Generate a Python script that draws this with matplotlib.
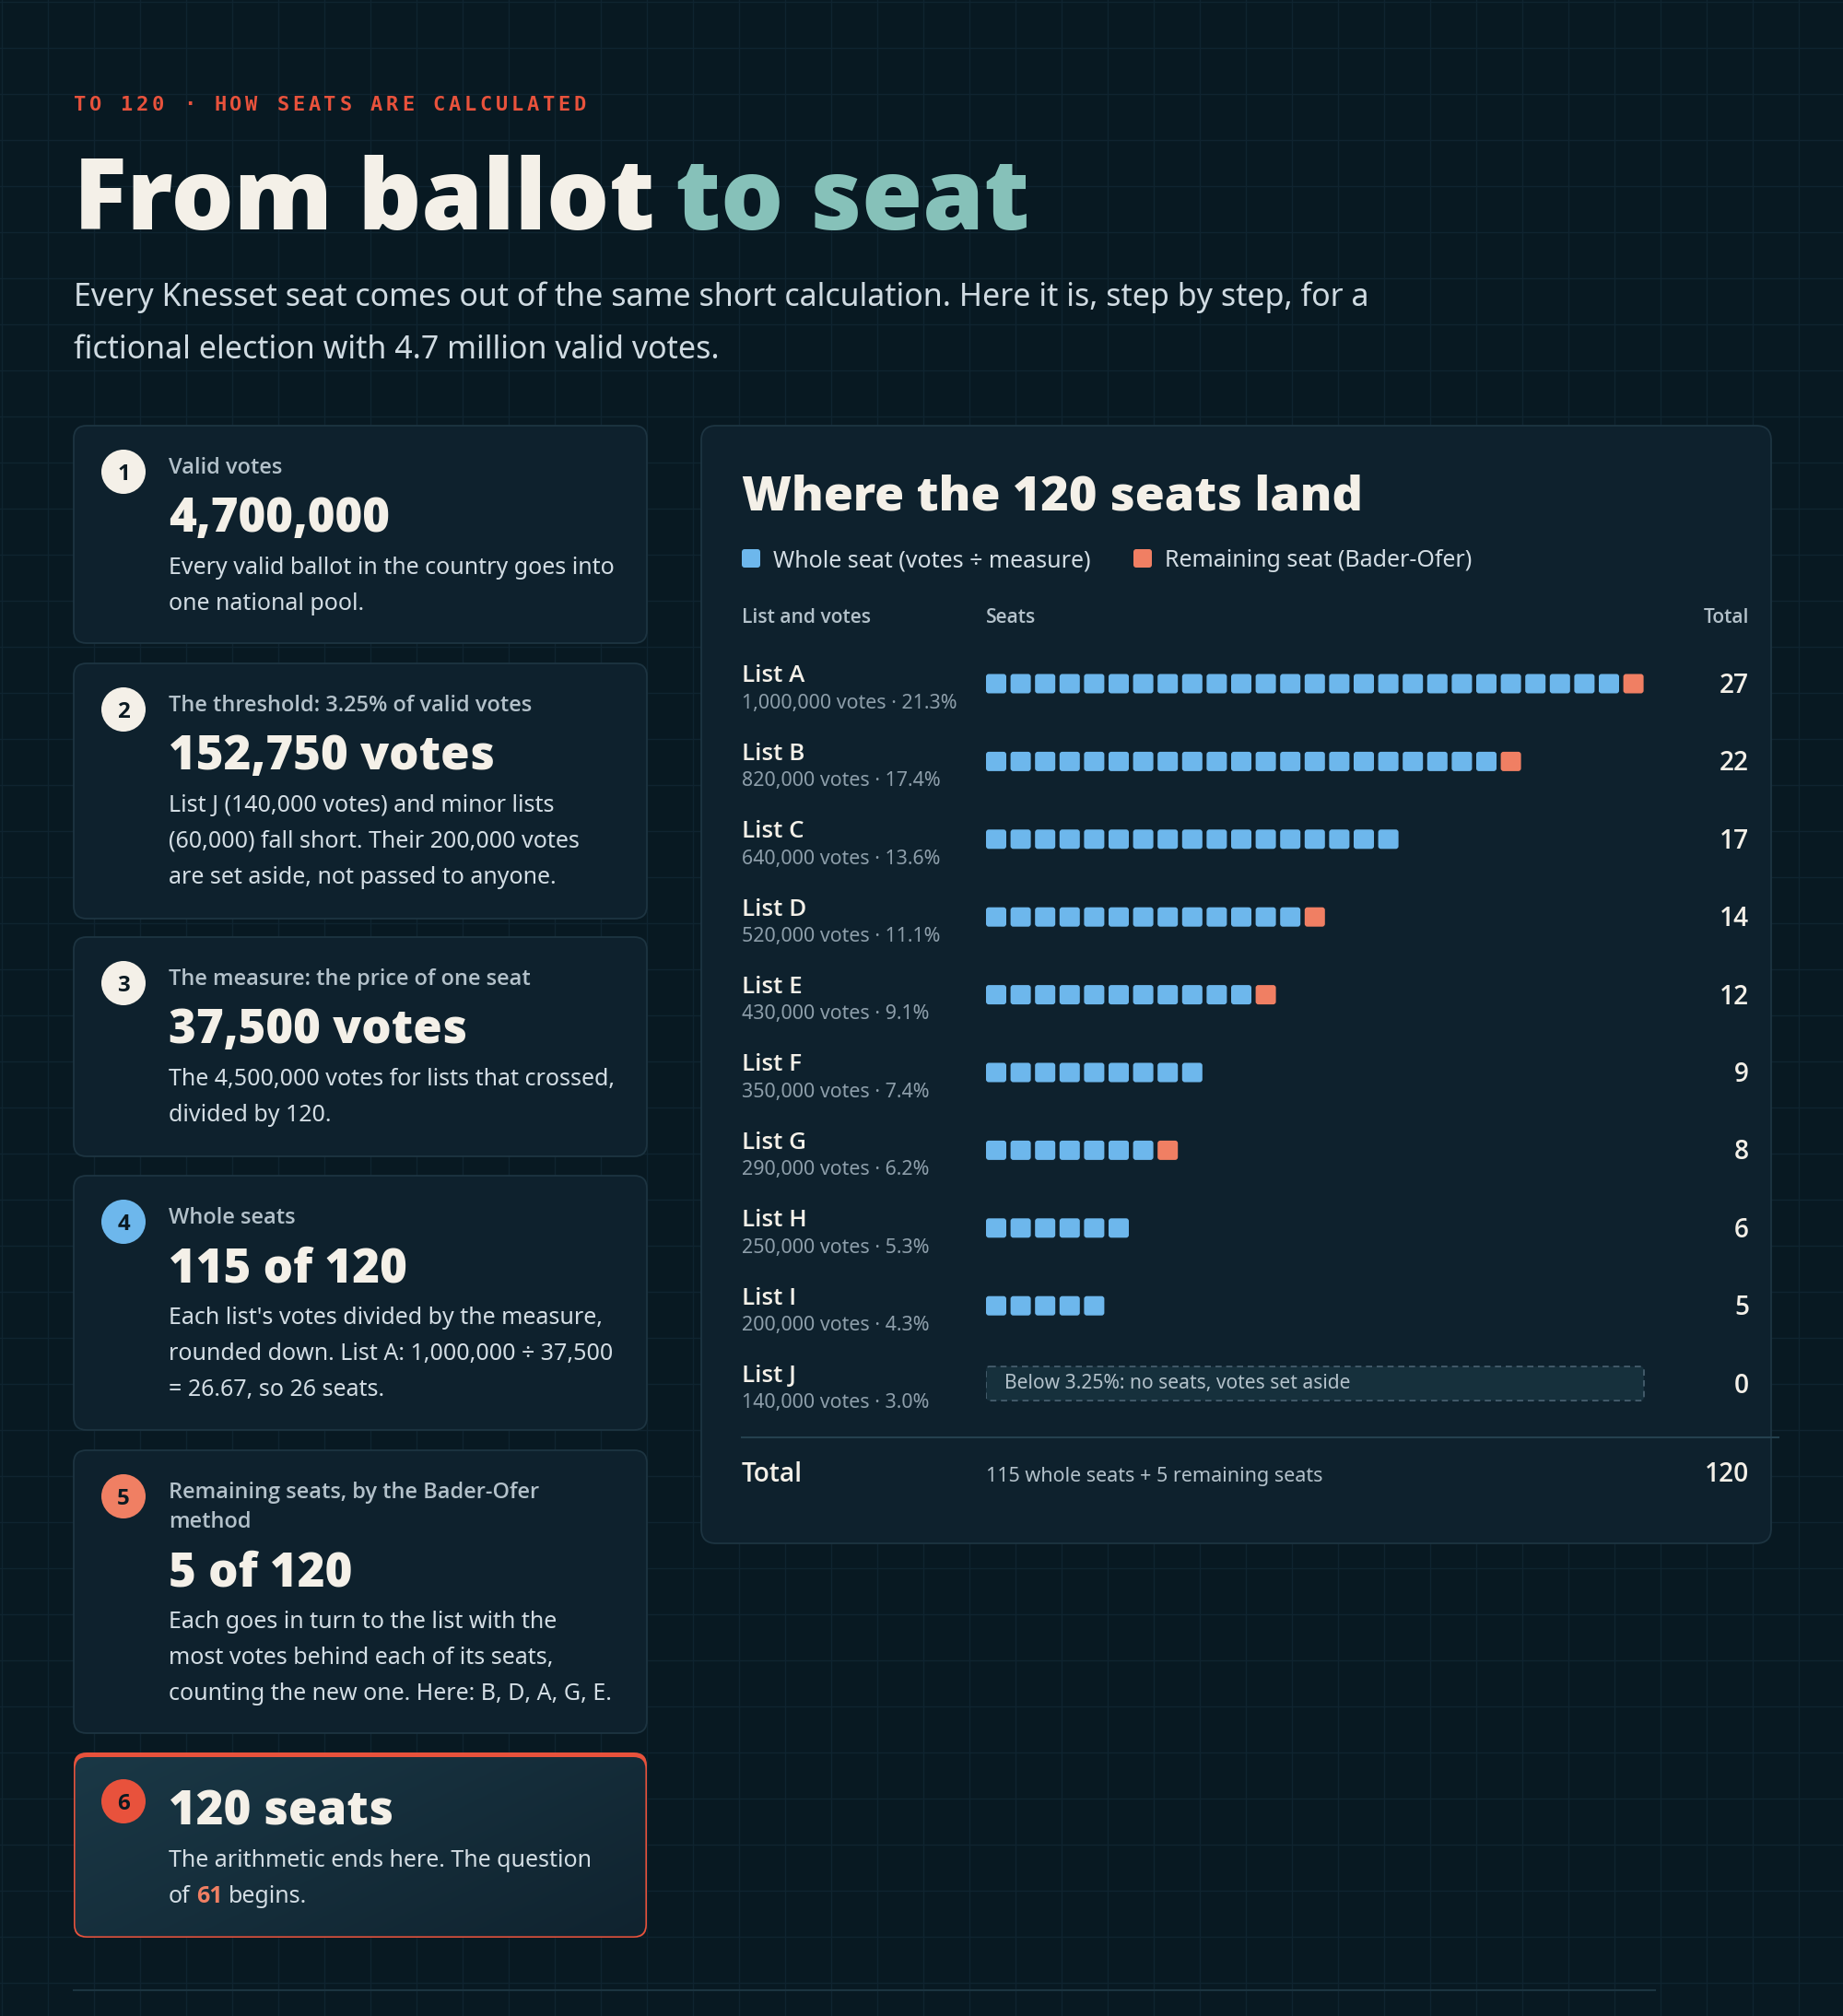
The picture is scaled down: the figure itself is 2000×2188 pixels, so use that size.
import matplotlib
matplotlib.use('Agg')
import matplotlib.pyplot as plt
from matplotlib.patches import FancyBboxPatch, Circle
import numpy as np

# ---------------- data ----------------
list_names = ['List A', 'List B', 'List C', 'List D', 'List E',
              'List F', 'List G', 'List H', 'List I', 'List J']
list_votes = [1000000, 820000, 640000, 520000, 430000,
              350000, 290000, 250000, 200000, 140000]
vote_share = [21.3, 17.4, 13.6, 11.1, 9.1, 7.4, 6.2, 5.3, 4.3, 3.0]
whole_seats = [26, 21, 17, 13, 11, 9, 7, 6, 5, 0]
remaining_seats = [1, 1, 0, 1, 1, 0, 1, 0, 0, 0]
below_note = 'Below 3.25%: no seats, votes set aside'
total_note = '115 whole seats + 5 remaining seats'
total_seats = 120

step_numbers = ['1', '2', '3', '4', '5', '6']
step_labels = [['Valid votes'],
               ['The threshold: 3.25% of valid votes'],
               ['The measure: the price of one seat'],
               ['Whole seats'],
               ['Remaining seats, by the Bader-Ofer', 'method'],
               []]
step_values = ['4,700,000', '152,750 votes', '37,500 votes', '115 of 120', '5 of 120', '120 seats']
step_descs = [['Every valid ballot in the country goes into', 'one national pool.'],
              ['List J (140,000 votes) and minor lists', '(60,000) fall short. Their 200,000 votes',
               'are set aside, not passed to anyone.'],
              ['The 4,500,000 votes for lists that crossed,', 'divided by 120.'],
              ["Each list's votes divided by the measure,", 'rounded down. List A: 1,000,000 \u00f7 37,500',
               '= 26.67, so 26 seats.'],
              ['Each goes in turn to the list with the', 'most votes behind each of its seats,',
               'counting the new one. Here: B, D, A, G, E.'],
              ['The arithmetic ends here. The question', None]]

# ---------------- style ----------------
W, H, DPI = 2000, 2188, 100
BG = '#081922'
GRID = '#0f2430'
CARD = '#0e212d'
CARD_EDGE = '#1d3441'
CREAM = '#f4f0e8'
TEAL = '#86c1b9'
RED = '#e8523c'
BLUE = '#6db7ec'
SALMON = '#f07f63'
LABEL = '#b3c1ca'
DESC = '#d3dde4'
SUB = '#8d9eaa'
SANS = ['Noto Sans', 'DejaVu Sans']
BOLDF = ['Open Sans', 'DejaVu Sans']
MONO = ['DejaVu Sans Mono']
circle_colors = [CREAM, CREAM, CREAM, BLUE, SALMON, RED]

plt.rcParams['font.family'] = SANS

fig = plt.figure(figsize=(W / DPI, H / DPI), dpi=DPI, facecolor=BG)
ax = fig.add_axes([0, 0, 1, 1])
ax.set_xlim(0, W)
ax.set_ylim(H, 0)
ax.axis('off')
R = fig.canvas.get_renderer()


def pt(px):
    return px * 72 / DPI


def T(x, yc, s, size, color, weight='normal', ha='left', family=None, z=5, **kw):
    if family is None:
        family = SANS if weight in ('normal', 'regular') else BOLDF
    return ax.text(x, yc + 0.36 * size, s, fontsize=pt(size), color=color,
                   fontweight=weight, ha=ha, va='baseline', family=family, zorder=z, **kw)


def width(t):
    return t.get_window_extent(R).width


def space_w(size, weight='normal'):
    fam = SANS if weight == 'normal' else BOLDF
    a = ax.text(0, 0, 'x x', fontsize=pt(size), fontweight=weight, family=fam)
    b = ax.text(0, 0, 'xx', fontsize=pt(size), fontweight=weight, family=fam)
    w = width(a) - width(b)
    a.remove(); b.remove()
    return w


# background grid
for gx in np.arange(2, W, 50):
    ax.plot([gx, gx], [0, H], color=GRID, lw=1, zorder=0)
for gy in np.arange(2, H, 50):
    ax.plot([0, W], [gy, gy], color=GRID, lw=1, zorder=0)

# ---------------- header ----------------
eyebrow = 'TO 120 \u00b7 HOW SEATS ARE CALCULATED'
for i, ch in enumerate(eyebrow):
    T(80 + i * 16.95, 112, ch, 22, RED, weight='bold', family=MONO)

TS = 107
t1 = T(80, 210, 'From ballot', TS, CREAM, weight=800)
sw = space_w(TS, 800) * 0.8
T(80 + width(t1) + sw, 210, 'to seat', TS, TEAL, weight=800)

T(80, 320, 'Every Knesset seat comes out of the same short calculation. Here it is, step by step, for a',
  34, '#d0dbe2')
T(80, 377, 'fictional election with 4.7 million valid votes.', 34, '#d0dbe2')

# ---------------- left cards ----------------
card_tops = [462, 720, 1017, 1276, 1574, 1902]
card_bots = [698, 997, 1255, 1552, 1881, 2103]
CX0, CX1 = 80, 702

for k in range(6):
    top, bot = card_tops[k], card_bots[k]
    if k < 5:
        p = FancyBboxPatch((CX0, top), CX1 - CX0, bot - top,
                           boxstyle='round,pad=0,rounding_size=14',
                           fc=CARD, ec=CARD_EDGE, lw=1.3, zorder=2)
        ax.add_patch(p)
    else:
        outer = FancyBboxPatch((CX0, top), CX1 - CX0, bot - top,
                               boxstyle='round,pad=0,rounding_size=14',
                               fc=RED, ec='none', lw=0, zorder=2)
        ax.add_patch(outer)
        inner = FancyBboxPatch((CX0 + 1.6, top + 5), CX1 - CX0 - 3.2, bot - top - 6.6,
                               boxstyle='round,pad=0,rounding_size=13',
                               fc='none', ec='none', lw=0, zorder=3)
        ax.add_patch(inner)
        gx_, gy_ = np.meshgrid(np.linspace(0, 1, 200), np.linspace(0, 1, 60))
        g = np.clip(0.6 * gx_ + 0.4 * gy_, 0, 1)
        c0 = np.array(matplotlib.colors.to_rgb('#1a3846'))
        c1 = np.array(matplotlib.colors.to_rgb('#10232f'))
        img = c0[None, None, :] * (1 - g[..., None]) + c1[None, None, :] * g[..., None]
        im = ax.imshow(img, extent=(CX0, CX1, bot, top), aspect='auto', zorder=3,
                       interpolation='bilinear')
        im.set_clip_path(inner)
        ax.set_xlim(0, W)
        ax.set_ylim(H, 0)

    labels = step_labels[k]
    if labels:
        y = top + 44
        circ_y = top + 50
        for j, line in enumerate(labels):
            T(183, y + 32 * j, line, 23.6, LABEL, weight='semibold')
        vy = y + 32 * (len(labels) - 1) + 53
    else:
        circ_y = top + 53
        vy = top + 60
    ax.add_patch(Circle((134, circ_y), 24, fc=circle_colors[k], ec='none', zorder=4))
    T(134, circ_y, step_numbers[k], 24, '#0b1a22', weight='bold', ha='center')
    T(183, vy, step_values[k], 51, CREAM, weight=800)
    for j, line in enumerate(step_descs[k]):
        dy = vy + 55 + 39 * j
        if line is None:
            a = T(183, dy, 'of', 25, DESC)
            s = space_w(25)
            b = T(183 + width(a) + s, dy, '61', 25, SALMON, weight='bold')
            T(183 + width(a) + s + width(b) + s, dy, 'begins.', 25, DESC)
        else:
            T(183, dy, line, 25, DESC)

# ---------------- right panel ----------------
PX0, PX1, PY0, PY1 = 761, 1922, 462, 1675
ax.add_patch(FancyBboxPatch((PX0, PY0), PX1 - PX0, PY1 - PY0,
                            boxstyle='round,pad=0,rounding_size=16',
                            fc=CARD, ec=CARD_EDGE, lw=1.3, zorder=2))
T(805, 535, 'Where the 120 seats land', 52, CREAM, weight=800)

ax.add_patch(FancyBboxPatch((805, 596), 20, 20, boxstyle='round,pad=0,rounding_size=3',
                            fc=BLUE, ec='none', zorder=4))
T(839, 606, 'Whole seat (votes \u00f7 measure)', 25, DESC)
ax.add_patch(FancyBboxPatch((1230, 596), 20, 20, boxstyle='round,pad=0,rounding_size=3',
                            fc=SALMON, ec='none', zorder=4))
T(1264, 606, 'Remaining seat (Bader-Ofer)', 25, DESC)

T(805, 668, 'List and votes', 21, LABEL, weight='semibold')
T(1070, 668, 'Seats', 21, LABEL, weight='semibold')
T(1898, 668, 'Total', 21, LABEL, weight='semibold', ha='right')

ROW0, ROWH = 742, 84.4
PITCH, SQ, SQH = 26.6, 22.0, 21.0
n = len(list_names)
for i in range(n):
    yc = ROW0 + ROWH * i
    T(805, yc - 11, list_names[i], 26, CREAM, weight='semibold')
    T(805, yc + 19, f'{list_votes[i]:,} votes \u00b7 {vote_share[i]:.1f}%', 21.4, SUB)
    T(1898, yc, str(whole_seats[i] + remaining_seats[i]), 28, CREAM, weight='semibold', ha='right')

# seat grid axes in data units (x: seat index, y: list index)
NCOL = 27
top_px = ROW0 - ROWH / 2
axs = fig.add_axes([1070 / W, 1 - (top_px + ROWH * n) / H, NCOL * PITCH / W, ROWH * n / H])
axs.set_xlim(0, NCOL)
axs.set_ylim(n - 0.5, -0.5)
axs.axis('off')
sq_w = SQ / PITCH
sq_h = SQH / ROWH
asp = PITCH / ROWH
for i in range(n):
    for s in range(whole_seats[i] + remaining_seats[i]):
        col = BLUE if s < whole_seats[i] else SALMON
        axs.add_patch(FancyBboxPatch((s, i - sq_h / 2), sq_w, sq_h,
                                     boxstyle=f'round,pad=0,rounding_size={3 / PITCH}',
                                     mutation_aspect=asp, fc=col, ec='none'))
    if whole_seats[i] + remaining_seats[i] == 0:
        bh = 37 / ROWH
        axs.add_patch(FancyBboxPatch((0, i - bh / 2), 714 / PITCH, bh,
                                     boxstyle=f'round,pad=0,rounding_size={4 / PITCH}',
                                     mutation_aspect=asp, fc='#16303c', ec='#4a6272',
                                     lw=1.2, ls=(0, (4, 3))))
        axs.text(20 / PITCH, i, below_note, fontsize=pt(21), color=LABEL,
                 va='center', ha='left', family=SANS)

ax.plot([805, 1930], [1560, 1560], color='#24404e', lw=1.5, zorder=4)
T(805, 1598, 'Total', 28, CREAM, weight='semibold')
T(1070, 1600, total_note, 21.5, LABEL)
T(1898, 1598, str(total_seats), 28, CREAM, weight='semibold', ha='right')

ax.plot([80, 1796], [2160, 2160], color='#1c3440', lw=1.5, zorder=4)

fig.savefig('out.png', dpi=DPI, facecolor=BG)
